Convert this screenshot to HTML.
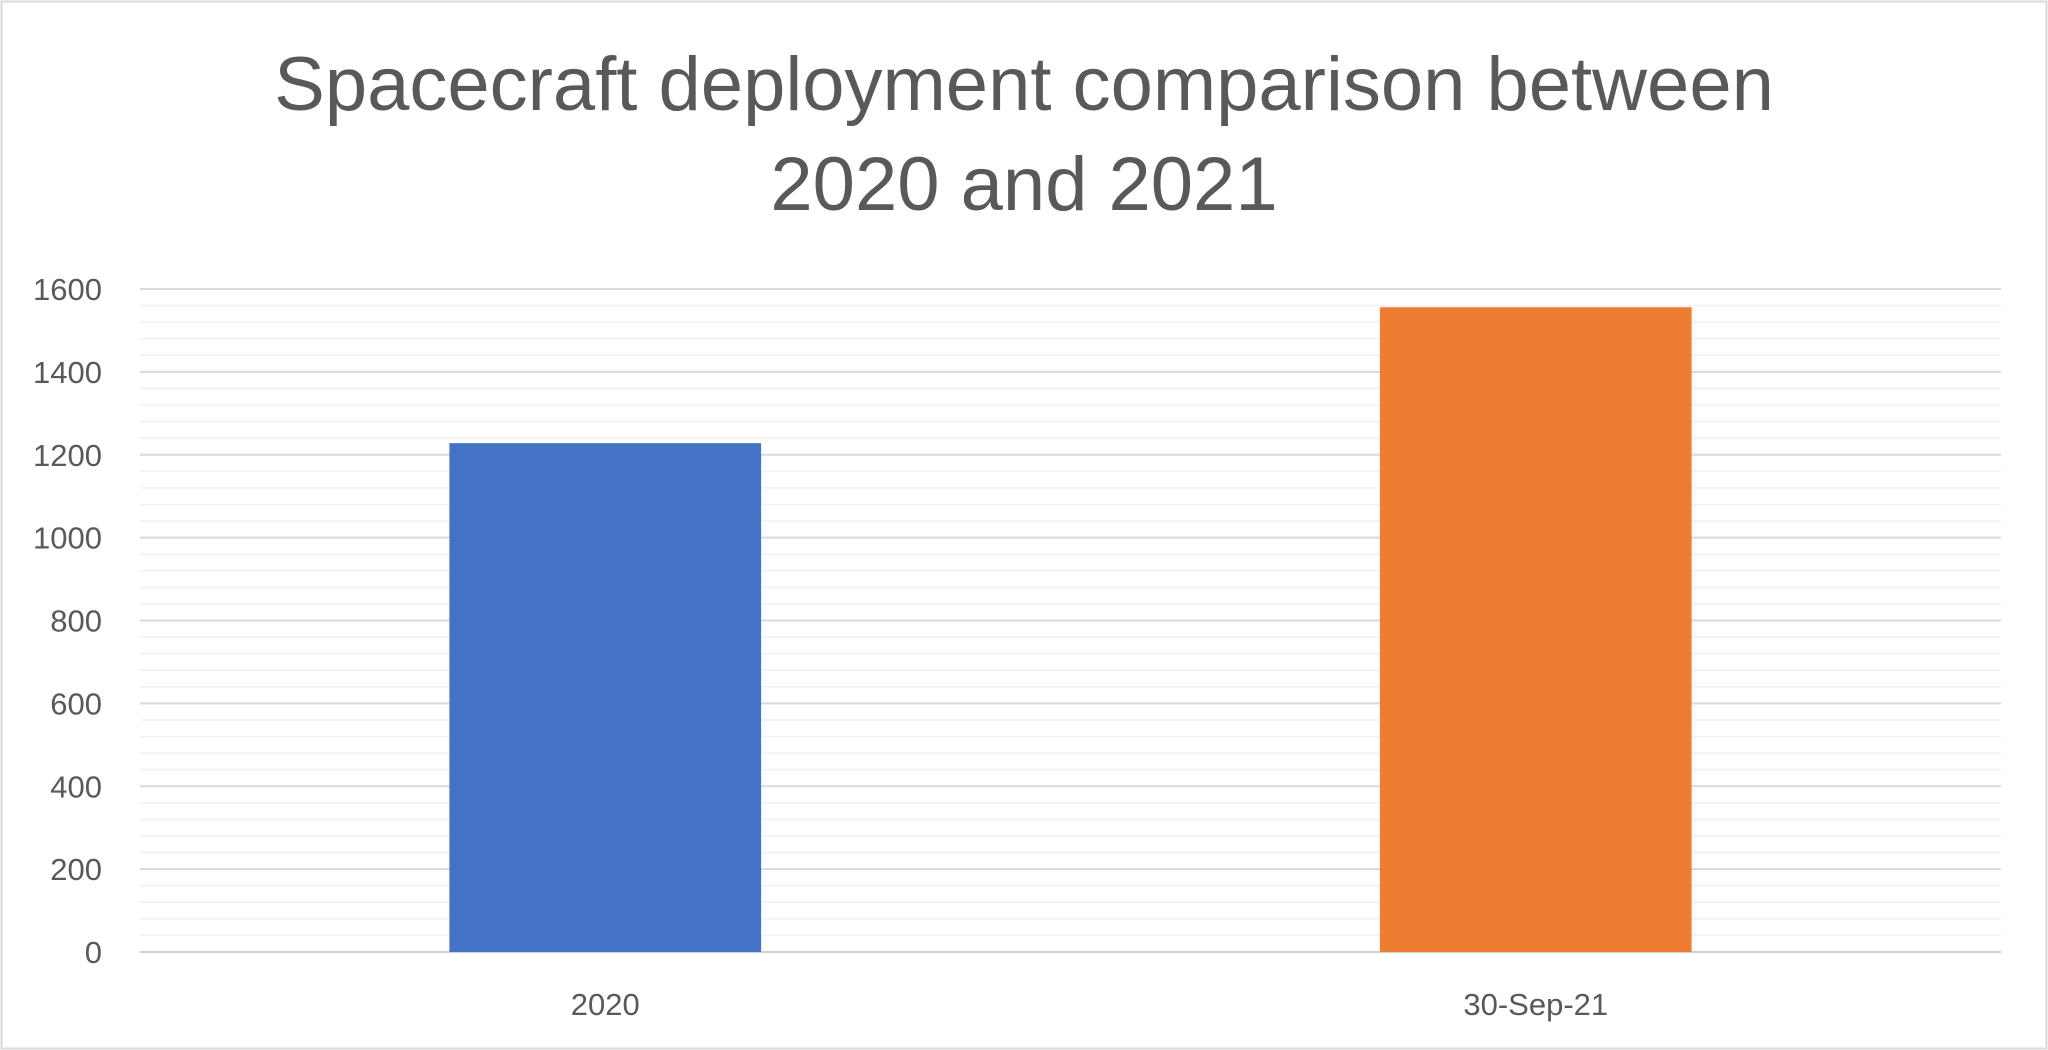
<!DOCTYPE html>
<html><head><meta charset="utf-8"><style>
html,body{margin:0;padding:0;background:#fff;}
svg{display:block;font-family:"Liberation Sans",Calibri,sans-serif;}
</style></head><body>
<svg id="chart" width="2048" height="1050" viewBox="0 0 2048 1050" xmlns="http://www.w3.org/2000/svg">
<rect x="1.5" y="1.5" width="2045" height="1047" fill="#fff" stroke="#d9d9d9" stroke-width="2"/>
<text x="1024" y="110" text-anchor="middle" font-size="76" fill="#595959">Spacecraft deployment comparison between</text>
<text x="1024" y="210" text-anchor="middle" font-size="76" fill="#595959">2020 and 2021</text>
<g id="grid"></g><g id="bars"></g><g id="labels"></g>
</svg>
<script>
const categories = ["2020", "30-Sep-21"];
const values = [1228, 1556];
const colors = ["#4472c4", "#ed7d31"];
const yTicks = [0, 200, 400, 600, 800, 1000, 1200, 1400, 1600];
const NS = "http://www.w3.org/2000/svg";
const x0 = 140, x1 = 2001, yBase = 952, yTop = 289, yMax = 1600;
const y = v => yBase - (v / yMax) * (yBase - yTop);
const band = (x1 - x0) / categories.length;
const grid = document.getElementById('grid'), bars = document.getElementById('bars'), labels = document.getElementById('labels');
function mk(tag, attrs, parent) { const e = document.createElementNS(NS, tag); for (const k in attrs) e.setAttribute(k, attrs[k]); parent.appendChild(e); return e; }
for (let v = 40; v < yMax; v += 40) {
  if (v % 200 === 0) continue;
  const l = mk('line', {x1: x0, x2: x1, y1: y(v), y2: y(v), stroke: '#f0f0f0', 'stroke-width': 1.5}, grid);
  
  
}
yTicks.forEach(t => {
  const l = mk('line', {x1: x0, x2: x1, y1: y(t), y2: y(t), stroke: t === 0 ? '#d0d0d0' : '#d9d9d9', 'stroke-width': 2}, grid);
  
  
  const tx = mk('text', {x: 102, y: y(t) + 11, 'text-anchor': 'end', 'font-size': 31, fill: '#595959'}, labels);
  tx.textContent = t;
  
  
});
const bw = band * 0.335;
categories.forEach((c, i) => {
  const cx = x0 + band * (i + 0.5);
  const r = mk('rect', {x: cx - bw / 2, y: y(values[i]), width: bw, height: yBase - y(values[i]), fill: colors[i]}, bars);
  
  
  const tx = mk('text', {x: cx, y: 1015, 'text-anchor': 'middle', 'font-size': 31, fill: '#595959'}, labels);
  tx.textContent = c;
  
  
});
</script>
</body></html>
